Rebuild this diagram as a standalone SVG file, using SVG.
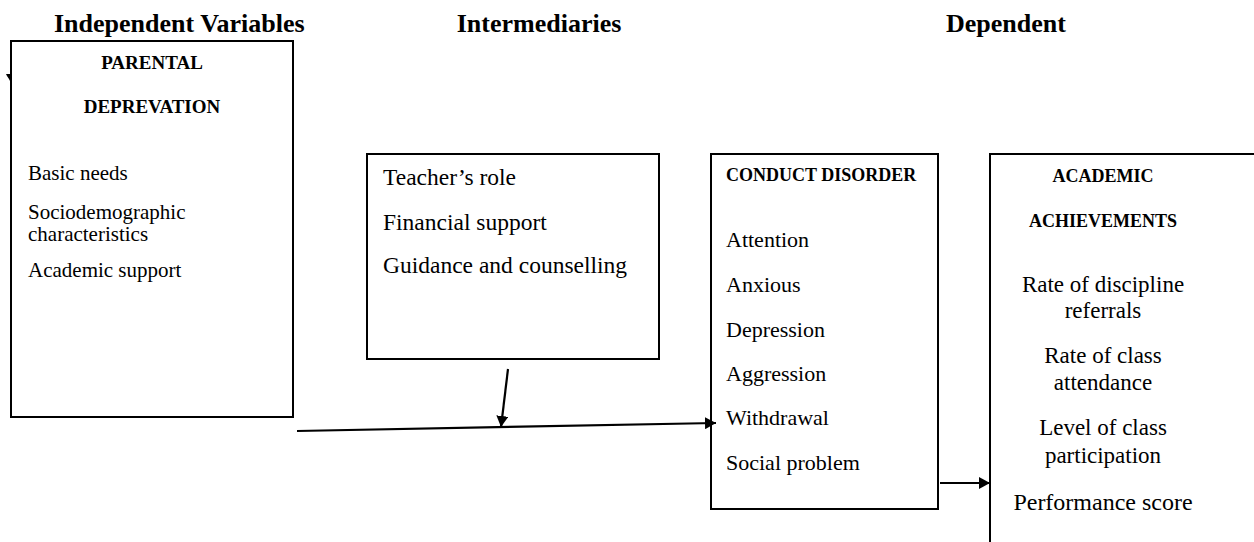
<svg xmlns="http://www.w3.org/2000/svg" width="1254" height="542" viewBox="0 0 1254 542">
  <defs>
    <style>
      .box { fill: #ffffff; stroke: #000000; stroke-width: 2; }
      .t { font-family: "Liberation Serif", "Times New Roman", serif; fill: #000000; }
      .b { font-weight: bold; }
      .h { font-size: 26px; font-weight: bold; }
      .c { text-anchor: middle; }
      .conn { stroke: #000000; stroke-width: 2.2; fill: none; }
    </style>
    <marker id="arrow" markerUnits="userSpaceOnUse" markerWidth="12" markerHeight="12" refX="11" refY="6" orient="auto">
      <path d="M0,0 L11,6 L0,12 z" fill="#000000"/>
    </marker>
  </defs>
  <rect x="0" y="0" width="1254" height="542" fill="#ffffff"/>

  <g id="headings">
    <text class="t h" x="54" y="32">Independent Variables</text>
    <text class="t h c" x="539" y="32">Intermediaries</text>
    <text class="t h c" x="1006" y="32">Dependent</text>
  </g>

  <polygon points="6,74 12,74 12,85 9,79 7,76" fill="#000000"/>

  <g id="parental-deprivation">
    <rect class="box" x="11" y="41" width="282" height="376"/>
    <text class="t b c" x="152" y="69" font-size="19">PARENTAL</text>
    <text class="t b c" x="152" y="113" font-size="19">DEPREVATION</text>
    <text class="t" x="28" y="180" font-size="21">Basic needs</text>
    <text class="t" x="28" y="219" font-size="21">Sociodemographic</text>
    <text class="t" x="28" y="241" font-size="21">characteristics</text>
    <text class="t" x="28" y="277" font-size="21">Academic support</text>
  </g>

  <g id="intermediaries">
    <rect class="box" x="367" y="154" width="292" height="205"/>
    <text class="t" x="383" y="185" font-size="23.5">Teacher’s role</text>
    <text class="t" x="383" y="230" font-size="23.5">Financial support</text>
    <text class="t" x="383" y="273" font-size="23.5">Guidance and counselling</text>
  </g>

  <g id="conduct-disorder">
    <rect class="box" x="711" y="154" width="227" height="355"/>
    <text class="t b" x="726" y="181" font-size="18">CONDUCT DISORDER</text>
    <text class="t" x="726" y="247" font-size="22">Attention</text>
    <text class="t" x="726" y="292" font-size="22">Anxious</text>
    <text class="t" x="726" y="337" font-size="22">Depression</text>
    <text class="t" x="726" y="381" font-size="22">Aggression</text>
    <text class="t" x="726" y="425" font-size="22">Withdrawal</text>
    <text class="t" x="726" y="470" font-size="22">Social problem</text>
  </g>

  <g id="academic-achievements">
    <rect class="box" x="990" y="154" width="290" height="400"/>
    <text class="t b c" x="1103" y="182" font-size="18">ACADEMIC</text>
    <text class="t b c" x="1103" y="227" font-size="18">ACHIEVEMENTS</text>
    <text class="t c" x="1103" y="292" font-size="23">Rate of discipline</text>
    <text class="t c" x="1103" y="318" font-size="23">referrals</text>
    <text class="t c" x="1103" y="363" font-size="23">Rate of class</text>
    <text class="t c" x="1103" y="390" font-size="23">attendance</text>
    <text class="t c" x="1103" y="435" font-size="23">Level of class</text>
    <text class="t c" x="1103" y="463" font-size="23">participation</text>
    <text class="t c" x="1103" y="510" font-size="24">Performance score</text>
  </g>

  <g id="connectors">
    <line class="conn" x1="297" y1="431" x2="716" y2="423" marker-end="url(#arrow)"/>
    <line class="conn" x1="508" y1="369" x2="501" y2="427" marker-end="url(#arrow)"/>
    <line class="conn" x1="940" y1="483" x2="990" y2="483" marker-end="url(#arrow)"/>
  </g>
</svg>
